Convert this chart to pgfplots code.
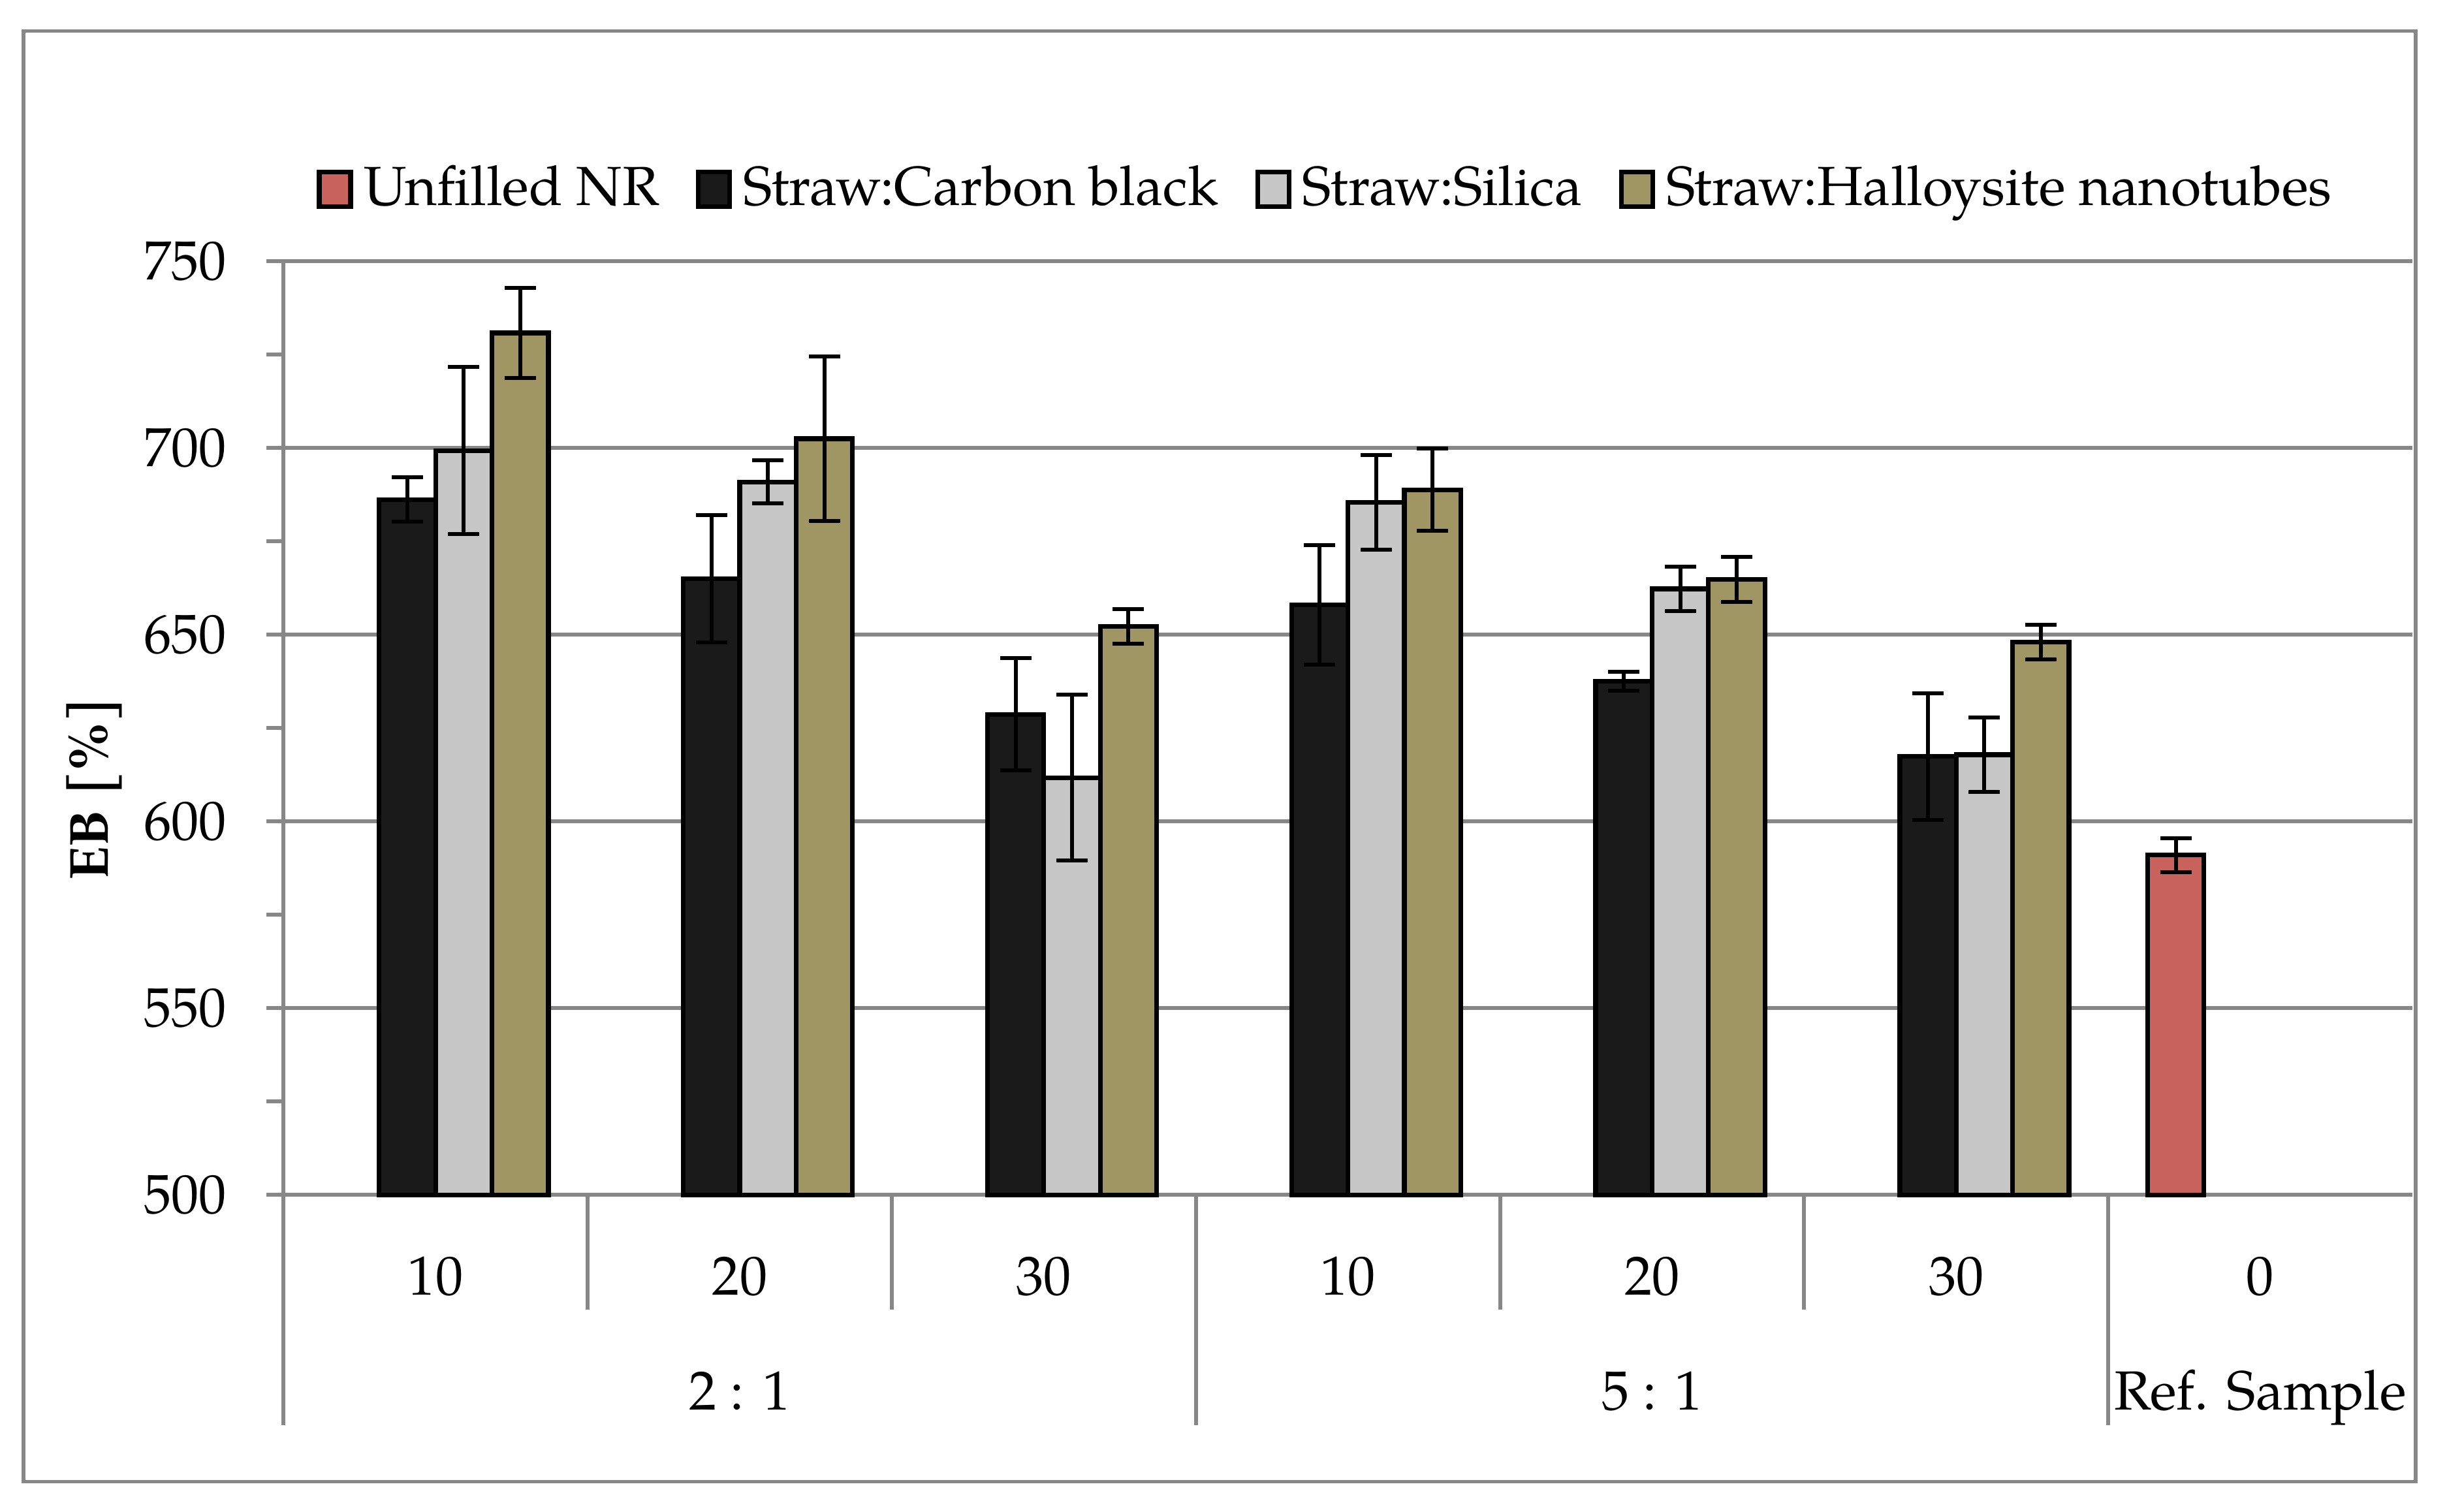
\documentclass[border=0pt]{standalone}
\usepackage{fontspec}
\setmainfont{TeX Gyre Pagella}
\usepackage{pgfplots}
\pgfplotsset{compat=1.18}

\definecolor{cbfill}{HTML}{1A1A1A}
\definecolor{sifill}{HTML}{C6C6C6}
\definecolor{hntfill}{HTML}{A09664}
\definecolor{nrfill}{HTML}{C8625D}
\definecolor{gridgray}{HTML}{878787}

\begin{document}
\fontsize{9.85pt}{12pt}\selectfont
\begin{tikzpicture}
% page and outer frame (1 px of the reference = 0.28pt)
\path (-50.68pt,-56.6pt) rectangle (386.68pt,213.6pt);
\draw[gridgray, line width=0.6pt] (-46.48pt,-51.2pt) rectangle (381.08pt,208.1pt);
\begin{axis}[
  scale only axis,
  width=380.5pt, height=166.9pt,
  clip=false,
  ybar=0pt, bar width=10.08pt,
  xmin=-0.5, xmax=6.5,
  ymin=500, ymax=750,
  xtick={0,...,6},
  xticklabels={10,20,30,10,20,30,0},
  ytick={500,550,...,750},
  minor y tick num=1,
  ymajorgrids,
  grid style={gridgray, line width=0.7pt},
  axis x line*=bottom, axis y line*=left,
  axis line style={gridgray, line width=0.7pt, -},
  tick align=outside,
  major tick length=3.1pt, minor tick length=3.1pt,
  xtick style={draw=none},
  ytick style={gridgray, line width=0.7pt},
  /pgf/number format/assume math mode=true,
  xticklabel style={anchor=base, yshift=-14.8pt},
  yticklabel style={xshift=-3.6pt},
  ylabel={\bfseries EB [\%]},
  ylabel style={at={(axis description cs:-0.089,0.435)}, anchor=center},
  every axis plot/.append style={draw=black, line width=0.85pt},
  error bars/error bar style={black, line width=0.7pt},
  error bars/error mark options={rotate=90, mark size=2.8pt, black, line width=0.7pt},
  legend style={at={(axis description cs:0.4915,1.077)}, anchor=center,
    draw=none, fill=none, legend columns=-1,
    /tikz/every even column/.append style={column sep=4.6pt}},
  legend image code/.code={\draw[#1] (0pt,-3.1pt) rectangle (5.6pt,3.1pt);},
]
\addplot[fill=nrfill, error bars/.cd, y dir=both, y explicit] coordinates {
  (6,591)+-(0,4.6)
};
\addplot[fill=cbfill, error bars/.cd, y dir=both, y explicit] coordinates {
  (0,686.2)+-(0,5.9) (1,665)+-(0,17) (2,628.7)+-(0,15)
  (3,658)+-(0,16) (4,637.6)+-(0,2.5) (5,617.4)+-(0,17)
};
\addplot[fill=sifill, error bars/.cd, y dir=both, y explicit] coordinates {
  (0,699.3)+-(0,22.4) (1,690.9)+-(0,5.8) (2,611.7)+-(0,22.2)
  (3,685.4)+-(0,12.7) (4,662.3)+-(0,6) (5,617.9)+-(0,10)
};
\addplot[fill=hntfill, error bars/.cd, y dir=both, y explicit] coordinates {
  (0,730.8)+-(0,12) (1,702.5)+-(0,22.1) (2,652.2)+-(0,4.6)
  (3,688.8)+-(0,11) (4,664.8)+-(0,6) (5,648)+-(0,4.6)
};
\legend{Unfilled NR, Straw:Carbon black, Straw:Silica, Straw:Halloysite nanotubes}

% category separators below the axis
\draw[gridgray, line width=0.7pt] (axis cs:-0.5,500) -- ([yshift=-41.16pt]axis cs:-0.5,500);
\draw[gridgray, line width=0.7pt] (axis cs:0.5,500) -- ([yshift=-20.44pt]axis cs:0.5,500);
\draw[gridgray, line width=0.7pt] (axis cs:1.5,500) -- ([yshift=-20.44pt]axis cs:1.5,500);
\draw[gridgray, line width=0.7pt] (axis cs:2.5,500) -- ([yshift=-41.16pt]axis cs:2.5,500);
\draw[gridgray, line width=0.7pt] (axis cs:3.5,500) -- ([yshift=-20.44pt]axis cs:3.5,500);
\draw[gridgray, line width=0.7pt] (axis cs:4.5,500) -- ([yshift=-20.44pt]axis cs:4.5,500);
\draw[gridgray, line width=0.7pt] (axis cs:5.5,500) -- ([yshift=-41.16pt]axis cs:5.5,500);
% group labels
\node[anchor=base] at ([yshift=-38.4pt]axis cs:1,500) {2 : 1};
\node[anchor=base] at ([yshift=-38.4pt]axis cs:4,500) {5 : 1};
\node[anchor=base] at ([yshift=-38.4pt]axis cs:6,500) {Ref. Sample};
\end{axis}
\end{tikzpicture}
\end{document}
